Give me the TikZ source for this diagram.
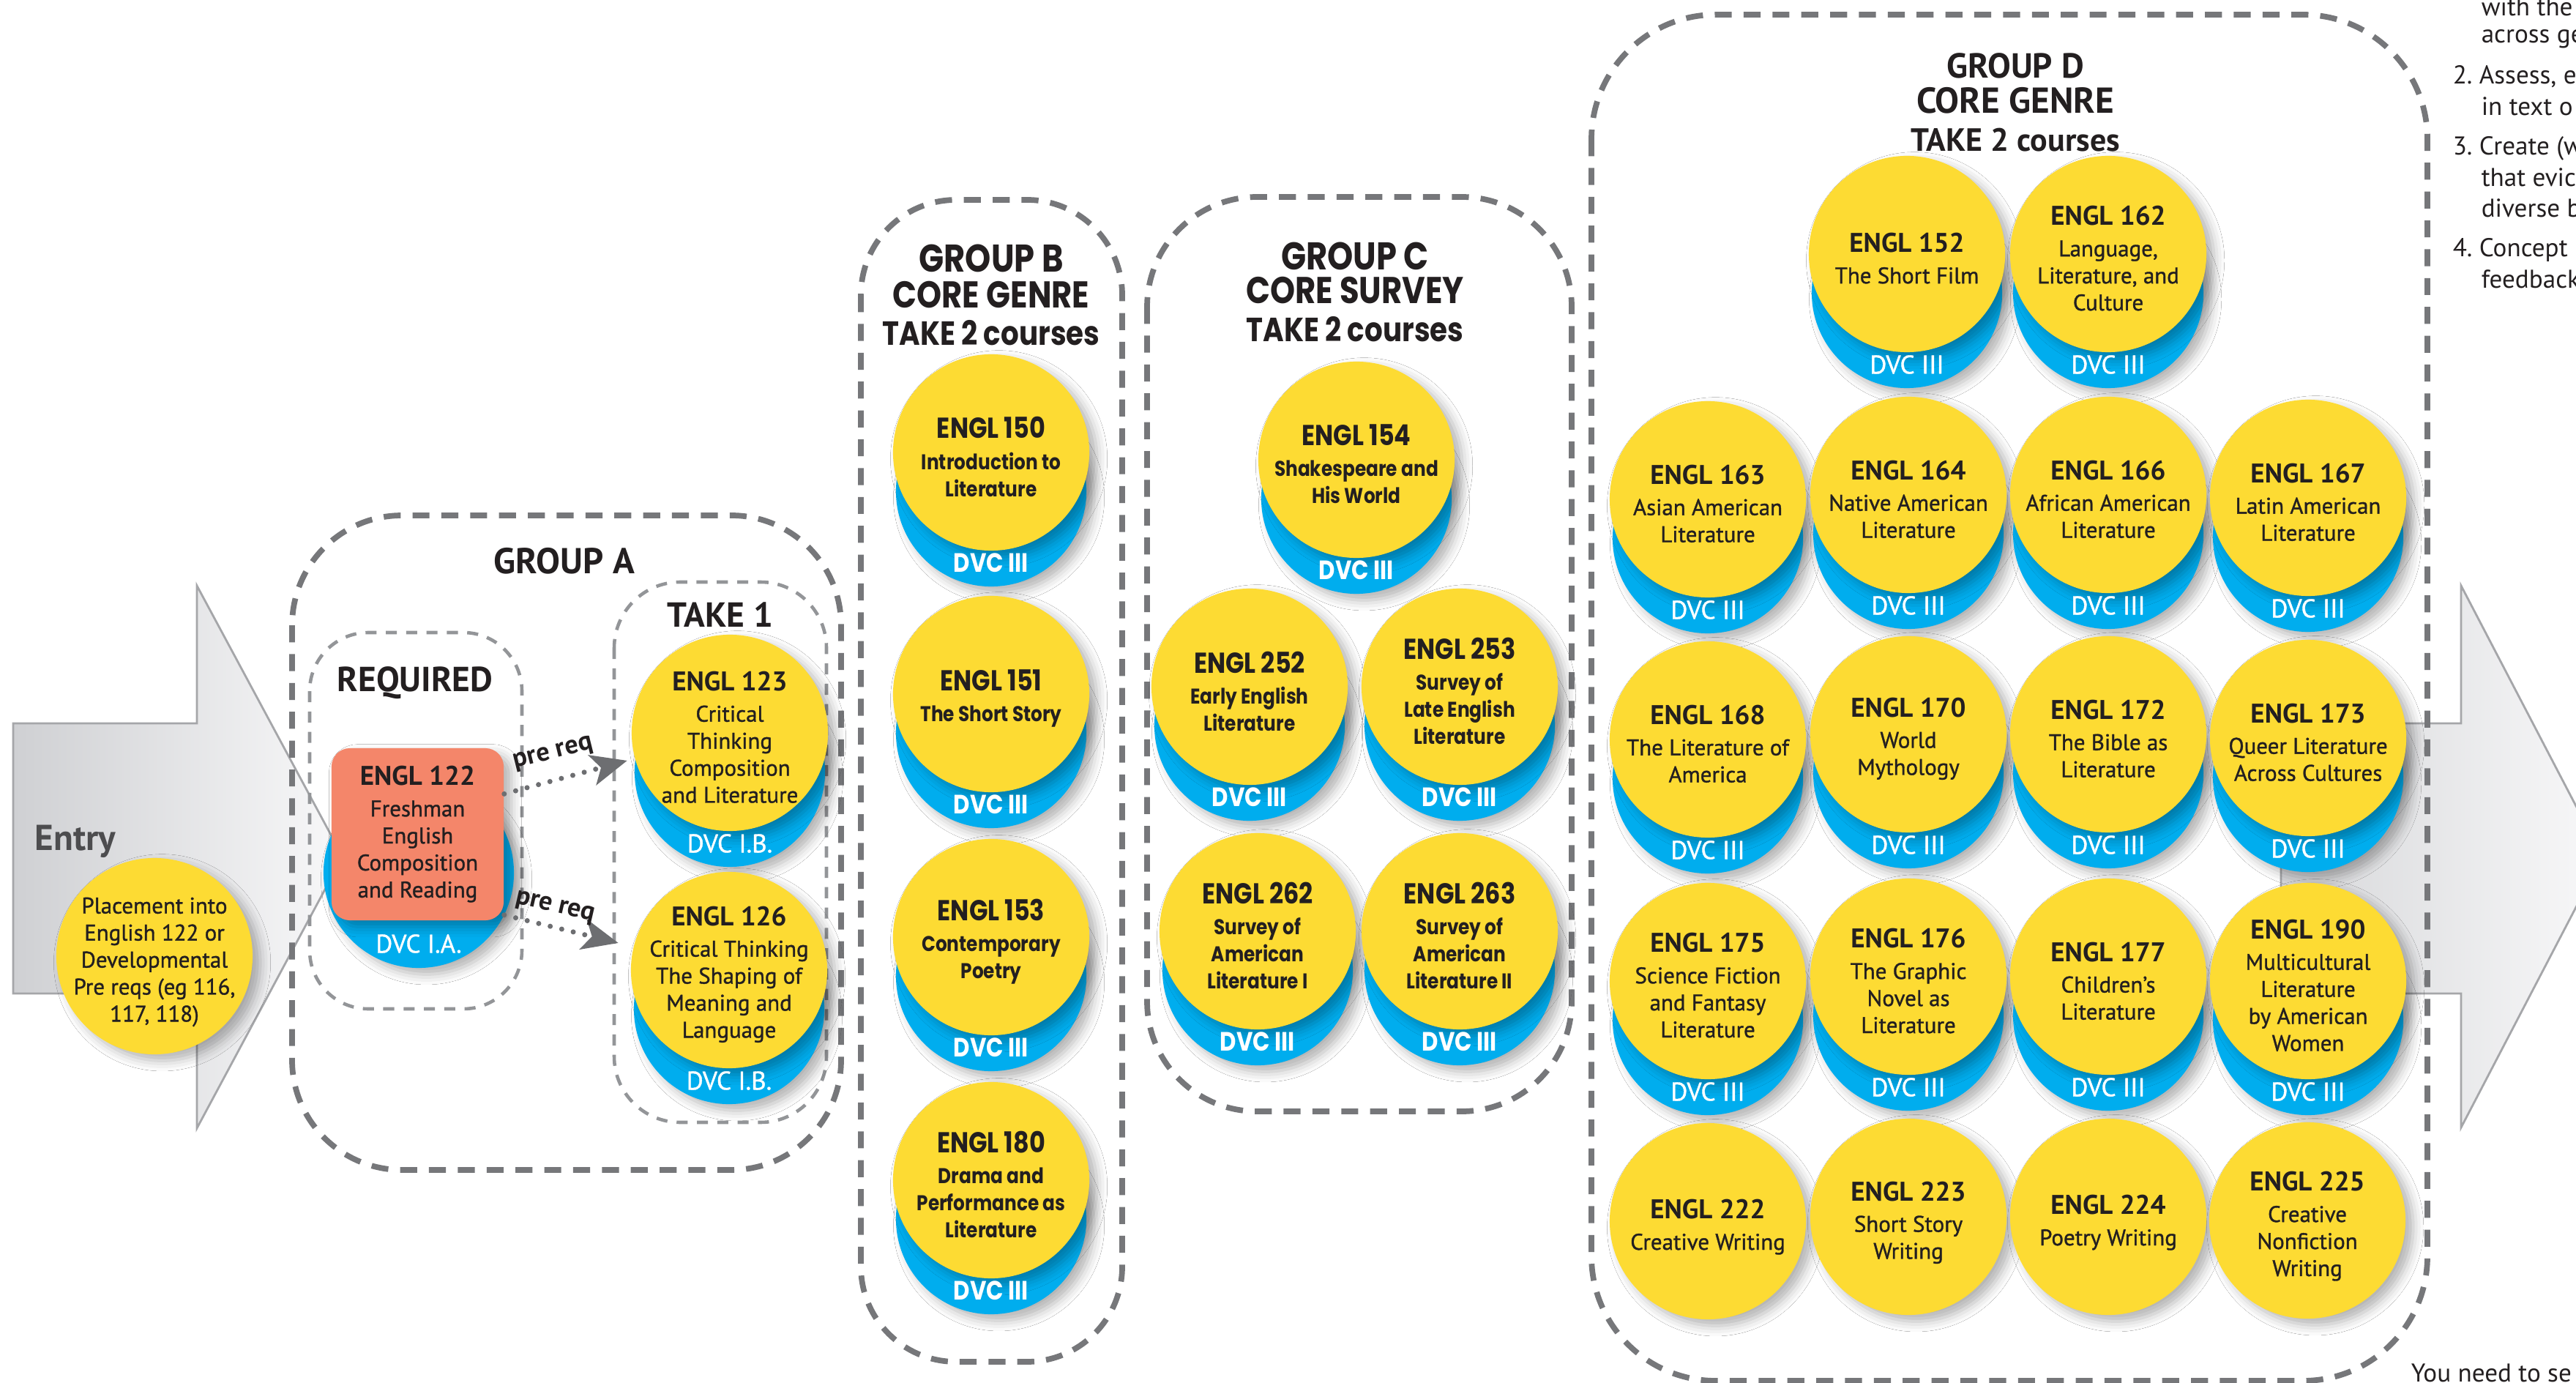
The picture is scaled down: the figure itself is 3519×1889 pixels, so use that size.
\documentclass[tikz,border=0pt]{standalone}
\usepackage{fontspec}
\setmainfont{PT Sans}
\newfontfamily\cnd{PT Sans}
\newfontfamily\cndsb[FakeBold=1.1]{PT Sans}
\newfontfamily\wde[FakeStretch=0.85]{Poppins}
\usetikzlibrary{arrows.meta,shadows.blur}
\definecolor{ylw}{HTML}{FDDB33}
\definecolor{blu}{HTML}{00ADEE}
\definecolor{slm}{HTML}{F4866A}
\definecolor{ink}{HTML}{231F20}
\definecolor{dashA}{HTML}{76777A}
\definecolor{dashB}{HTML}{939598}
\definecolor{arrL}{HTML}{CFD0D3}
\definecolor{arrR}{HTML}{F8F8F9}
\definecolor{arrS}{HTML}{A5A6A9}
\definecolor{entryc}{HTML}{4D4D4F}
\definecolor{dotc}{HTML}{6D6E71}
\newcommand\tD[1]{{\cnd\bfseries\fontsize{10.5}{12}\selectfont #1}}
\newcommand\tW[1]{{\wde\bfseries\fontsize{11.2}{12}\selectfont #1}}
\tikzset{
  grpbox/.style={draw=dashA, line width=2.2pt, dash pattern=on 6.6pt off 4.6pt},
  subbox/.style={draw=dashB, line width=1.3pt, dash pattern=on 4.3pt off 3.6pt},
  shd/.style={blur shadow={shadow xshift=3pt, shadow yshift=-2.5pt, shadow opacity=30, shadow blur radius=4pt}},
  ydisk/.style={circle, fill=ylw, inner sep=0pt, minimum size=2.68cm, shd},
  bdisk/.style={circle, fill=blu, inner sep=0pt, minimum size=2.60cm, shd},
  dvcD/.style={text=white, inner sep=0pt, font=\cndsb\fontsize{10}{12}\selectfont},
  dvcW/.style={text=white, inner sep=0pt, font=\wde\bfseries\fontsize{10.3}{12}\selectfont},
  txtD/.style={text=ink, align=center, inner sep=0pt, font=\cndsb\fontsize{8.8}{10.5}\selectfont},
  txtW/.style={text=ink, align=center, inner sep=0pt, font=\wde\bfseries\fontsize{8.3}{10.5}\selectfont},
  hdrD/.style={text=ink, inner sep=0pt, font=\cnd\bfseries\fontsize{14}{16}\selectfont},
  hdrDs/.style={text=ink, inner sep=0pt, font=\cnd\bfseries\fontsize{12.5}{14}\selectfont},
  hdrW/.style={text=ink, inner sep=0pt, font=\wde\bfseries\fontsize{15}{17}\selectfont},
  hdrWs/.style={text=ink, inner sep=0pt, font=\wde\bfseries\fontsize{13}{15}\selectfont},
  rect122/.style={rectangle, rounded corners=0.25cm, fill=slm, minimum width=2.35cm, minimum height=2.35cm, inner sep=0pt, align=center, text=ink, font=\cndsb\fontsize{8.8}{10.5}\selectfont, shd},
  prereq/.style={draw=dotc, line width=2pt, line cap=round, dash pattern=on 0pt off 4.6pt, -{Stealth[length=14pt,width=12pt,inset=3.5pt]}},
  prelbl/.style={text=ink, inner sep=0pt, font=\cnd\bfseries\fontsize{10.3}{12}\selectfont},
  bigarrow/.style={draw=arrS, line width=0.8pt},
  rtxt/.style={text=ink, inner sep=0pt, anchor=base west, font=\cnd\fontsize{10}{12}\selectfont},
}
% #1 name #2 x #3 y #4 style suffix #5 label #6 title #7 lines
\newcommand\coin[7]{%
  \node[bdisk] (#1b) at (#2,#3+53) {};
  \node[ydisk] (#1) at (#2,#3) {};
  \node[dvc#4] (#1d) at (#2,#3+151) {#5};
  \node[txt#4] (#1t) at (#2,#3+6) {\csname t#4\endcsname{#6}\\[1.5pt]#7};}
\newcommand\ncoin[4]{%
  \node[ydisk] (#1) at (#2,#3) {};
  \node[txtD] (#1t) at (#2,#3+8) {#4};}
\begin{document}
\begin{tikzpicture}[x=0.01cm, y=-0.01cm]
\useasboundingbox (0,0) rectangle (3519,1889);
\clip (0,0) rectangle (3519,1889);
\fill[white] (0,0) rectangle (3519,1889);

% ---------- big arrows ----------
\path[bigarrow, left color=arrL, right color=arrR] (18,988) -- (269,988) -- (269,800) -- (468,1170) -- (269,1541) -- (269,1357) -- (18,1357) -- cycle;
\path[bigarrow, left color=arrL!85!white, right color=arrR] (3116,988) -- (3362,988) -- (3362,800) -- (3555,1170) -- (3362,1540) -- (3362,1357) -- (3116,1357) -- cycle;

% ---------- group boxes ----------
\draw[grpbox, rounded corners=1.5cm] (399,704) rectangle (1149,1598);
\draw[subbox, rounded corners=0.8cm] (423,864) rectangle (713,1378);
\draw[subbox, rounded corners=0.9cm] (839,795) rectangle (1129,1533);
\draw[grpbox, rounded corners=1.3cm] (1176,273) rectangle (1533,1860);
\draw[grpbox, rounded corners=1.5cm] (1567,269) rectangle (2147,1518);
\draw[grpbox, rounded corners=1.7cm] (2174,20) rectangle (3316,1886);

% ---------- entry ----------
\node[text=entryc, inner sep=0pt, font=\cnd\bfseries\fontsize{14}{16}\selectfont] (entry) at (103,1149) {Entry};
\ncoin{place}{211}{1306}{Placement into\\English 122 or\\Developmental\\Pre reqs (eg 116,\\117, 118)}

% ---------- group A ----------
\node[hdrD] (gA) at (771,766) {GROUP A};
\node[hdrD, font=\cnd\bfseries\fontsize{13.5}{16}\selectfont] (req) at (567,933) {REQUIRED};
\node[hdrD, font=\cnd\bfseries\fontsize{13.5}{16}\selectfont] (take1) at (984,840) {TAKE 1};
\node[bdisk] (c122b) at (572,1192) {};
\node[rect122] (c122) at (570.5,1139.5) {\tD{ENGL 122}\\[1.5pt]Freshman\\English\\Composition\\and Reading};
\node[dvcD] (c122d) at (572,1289) {DVC I.A.};
\coin{c123}{997}{1001}{D}{DVC I.B.}{ENGL 123}{Critical\\Thinking\\Composition\\and Literature}
\coin{c126}{996}{1325}{D}{DVC I.B.}{ENGL 126}{Critical Thinking\\The Shaping of\\Meaning and\\Language}
\draw[prereq, shorten >=3pt] (c122.25) -- (c123);
\draw[prereq, shorten >=6pt] (c122.-43) -- (c126);
\node[prelbl, rotate=14] (pq1) at (756,1030) {pre req};
\node[prelbl, rotate=-13] (pq2) at (758,1240) {pre req};

% ---------- group B ----------
\node[hdrW] (gB1) at (1354,353) {GROUP B};
\node[hdrW, font=\wde\bfseries\fontsize{14.5}{17}\selectfont] (gB2) at (1354,403) {CORE GENRE};
\node[hdrWs] (gB3) at (1354,455) {TAKE 2 courses};
\coin{c150}{1354}{618}{W}{DVC III}{ENGL 150}{Introduction to\\Literature}
\coin{c151}{1354}{948}{W}{DVC III}{ENGL 151}{The Short Story}
\coin{c153}{1354}{1280}{W}{DVC III}{ENGL 153}{Contemporary\\Poetry}
\coin{c180}{1354}{1612}{W}{DVC III}{ENGL 180}{Drama and\\Performance as\\Literature}

% ---------- group C ----------
\node[hdrW] (gC1) at (1851,350) {GROUP C};
\node[hdrW, font=\wde\bfseries\fontsize{14.5}{17}\selectfont] (gC2) at (1851,397) {CORE SURVEY};
\node[hdrWs] (gC3) at (1851,450) {TAKE 2 courses};
\coin{c154}{1853}{628}{W}{DVC III}{ENGL 154}{Shakespeare and\\His World}
\coin{c252}{1707}{938}{W}{DVC III}{ENGL 252}{Early English\\Literature}
\coin{c253}{1994}{938}{W}{DVC III}{ENGL 253}{Survey of\\Late English\\Literature}
\coin{c262}{1718}{1272}{W}{DVC III}{ENGL 262}{Survey of\\American\\Literature I}
\coin{c263}{1994}{1272}{W}{DVC III}{ENGL 263}{Survey of\\American\\Literature II}

% ---------- group D ----------
\node[hdrD, font=\cnd\bfseries\fontsize{13.5}{16}\selectfont] (gD1) at (2753,90) {GROUP D};
\node[hdrD] (gD2) at (2753,137) {CORE GENRE};
\node[hdrDs] (gD3) at (2753,191) {TAKE 2 courses};
\coin{c152}{2605}{347}{D}{DVC III}{ENGL 152}{The Short Film}
\coin{c162}{2880}{347}{D}{DVC III}{ENGL 162}{Language,\\Literature, and\\Culture}
\coin{c163}{2333}{682}{D}{DVC III}{ENGL 163}{Asian American\\Literature}
\coin{c164}{2607}{676}{D}{DVC III}{ENGL 164}{Native American\\Literature}
\coin{c166}{2880}{676}{D}{DVC III}{ENGL 166}{African American\\Literature}
\coin{c167}{3153}{680}{D}{DVC III}{ENGL 167}{Latin American\\Literature}
\coin{c168}{2333}{1010}{D}{DVC III}{ENGL 168}{The Literature of\\America}
\coin{c170}{2607}{1003}{D}{DVC III}{ENGL 170}{World\\Mythology}
\coin{c172}{2880}{1003}{D}{DVC III}{ENGL 172}{The Bible as\\Literature}
\coin{c173}{3153}{1008}{D}{DVC III}{ENGL 173}{Queer Literature\\Across Cultures}
\coin{c175}{2333}{1340}{D}{DVC III}{ENGL 175}{Science Fiction\\and Fantasy\\Literature}
\coin{c176}{2607}{1334}{D}{DVC III}{ENGL 176}{The Graphic\\Novel as\\Literature}
\coin{c177}{2880}{1334}{D}{DVC III}{ENGL 177}{Children’s\\Literature}
\coin{c190}{3153}{1340}{D}{DVC III}{ENGL 190}{Multicultural\\Literature\\by American\\Women}
\ncoin{c222}{2333}{1668}{\tD{ENGL 222}\\[1.5pt]Creative Writing}
\ncoin{c223}{2607}{1662}{\tD{ENGL 223}\\[1.5pt]Short Story\\Writing}
\ncoin{c224}{2880}{1662}{\tD{ENGL 224}\\[1.5pt]Poetry Writing}
\ncoin{c225}{3152}{1667}{\tD{ENGL 225}\\[1.5pt]Creative\\Nonfiction\\Writing}

% ---------- clipped page text at right ----------
\node[rtxt] (r1) at (3389,22) {with the};
\node[rtxt] (r2) at (3389,59) {across ge};
\node[rtxt] (r3) at (3350,115) {2.\ Assess, e};
\node[rtxt] (r4) at (3389,158) {in text o};
\node[rtxt] (r5) at (3350,212) {3.\ Create (w};
\node[rtxt] (r6) at (3389,255) {that evic};
\node[rtxt] (r7) at (3389,297) {diverse b};
\node[rtxt] (r8) at (3350,351) {4.\ Concept};
\node[rtxt] (r9) at (3389,394) {feedback};
\node[rtxt] (r10) at (3293,1887) {You need to se};
\end{tikzpicture}
\end{document}
